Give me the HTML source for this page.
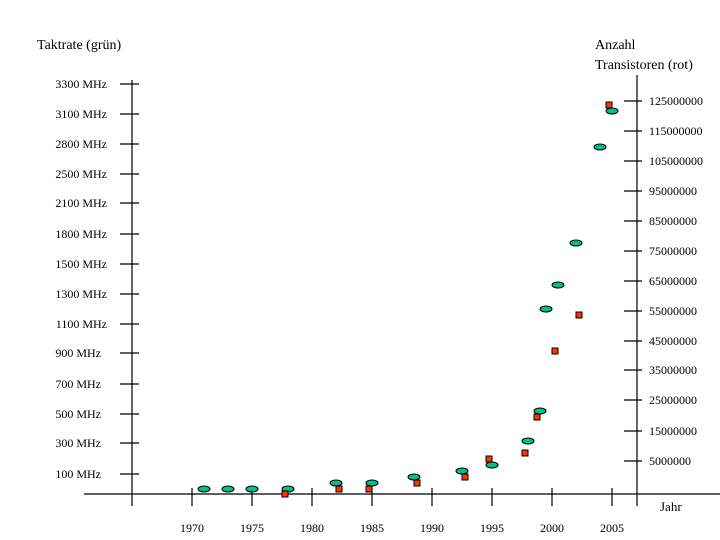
<!DOCTYPE html>
<html><head><meta charset="utf-8"><style>body{margin:0;background:#fff}svg{display:block}text{font-family:"Liberation Serif",serif;font-size:12px;fill:#000}</style></head><body>
<svg width="720" height="540" viewBox="0 0 720 540">
<g stroke="#000" stroke-width="1.2" fill="none">
<line x1="132" y1="80" x2="132" y2="506"/>
<line x1="84" y1="494" x2="720" y2="494"/>
<line x1="637" y1="75" x2="637" y2="506"/>
<path d="M120 84h19M120 114h19M120 144h19M120 174h19M120 203h19M120 234h19M120 264h19M120 294h19M120 324h19M120 353h19M120 384h19M120 414h19M120 443h19M120 474h19"/>
<path d="M624 101h18M624 131h18M624 161h18M624 191h18M624 221h18M624 251h18M624 281h18M624 311h18M624 341h18M624 370h18M624 400h18M624 431h18M624 461h18"/>
<path d="M192 488v18M252 488v18M312 488v18M372 488v18M432 488v18M492 488v18M552 488v18M612 488v18"/>
</g>
<text x="37" y="49" style="font-size:14px">Taktrate (grün)</text>
<text x="595" y="49" style="font-size:14px">Anzahl</text>
<text x="595" y="69" style="font-size:14px">Transistoren (rot)</text>
<text x="660" y="511" style="font-size:13px">Jahr</text>
<g text-anchor="end">
<text x="107" y="88">3300 MHz</text><text x="107" y="118">3100 MHz</text><text x="107" y="148">2800 MHz</text><text x="107" y="178">2500 MHz</text><text x="107" y="207">2100 MHz</text><text x="107" y="238">1800 MHz</text><text x="107" y="268">1500 MHz</text><text x="107" y="298">1300 MHz</text><text x="107" y="328">1100 MHz</text><text x="101" y="357">900 MHz</text><text x="101" y="388">700 MHz</text><text x="101" y="418">500 MHz</text><text x="101" y="447">300 MHz</text><text x="101" y="478">100 MHz</text>
</g>
<g>
<text x="649" y="105">125000000</text><text x="649" y="135">115000000</text><text x="649" y="165">105000000</text><text x="649" y="195">95000000</text><text x="649" y="225">85000000</text><text x="649" y="255">75000000</text><text x="649" y="285">65000000</text><text x="649" y="315">55000000</text><text x="649" y="345">45000000</text><text x="649" y="374">35000000</text><text x="649" y="404">25000000</text><text x="649" y="435">15000000</text><text x="649" y="465">5000000</text>
</g>
<g text-anchor="middle">
<text x="192" y="532">1970</text><text x="252" y="532">1975</text><text x="312" y="532">1980</text><text x="372" y="532">1985</text><text x="432" y="532">1990</text><text x="492" y="532">1995</text><text x="552" y="532">2000</text><text x="612" y="532">2005</text>
</g>
<g fill="#00c08a" stroke="#000" stroke-width="1">
<ellipse cx="204" cy="489" rx="6" ry="3"/><ellipse cx="228" cy="489" rx="6" ry="3"/><ellipse cx="252" cy="489" rx="6" ry="3"/><ellipse cx="288" cy="489" rx="6" ry="3"/><ellipse cx="336" cy="483" rx="6" ry="3"/><ellipse cx="372" cy="483" rx="6" ry="3"/><ellipse cx="414" cy="477" rx="6" ry="3"/><ellipse cx="462" cy="471" rx="6" ry="3"/><ellipse cx="492" cy="465" rx="6" ry="3"/><ellipse cx="528" cy="441" rx="6" ry="3"/><ellipse cx="540" cy="411" rx="6" ry="3"/><ellipse cx="546" cy="309" rx="6" ry="3"/><ellipse cx="558" cy="285" rx="6" ry="3"/><ellipse cx="576" cy="243" rx="6" ry="3"/><ellipse cx="600" cy="147" rx="6" ry="3"/><ellipse cx="612" cy="111" rx="6" ry="3"/>
</g>
<g fill="#ff3300" stroke="#000" stroke-width="1">
<rect x="282" y="491" width="6" height="6"/><rect x="336" y="486" width="6" height="6"/><rect x="366" y="486" width="6" height="6"/><rect x="414" y="480" width="6" height="6"/><rect x="462" y="474" width="6" height="6"/><rect x="486" y="456" width="6" height="6"/><rect x="522" y="450" width="6" height="6"/><rect x="534" y="414" width="6" height="6"/><rect x="552" y="348" width="6" height="6"/><rect x="576" y="312" width="6" height="6"/><rect x="606" y="102" width="6" height="6"/>
</g>
</svg>
</body></html>
